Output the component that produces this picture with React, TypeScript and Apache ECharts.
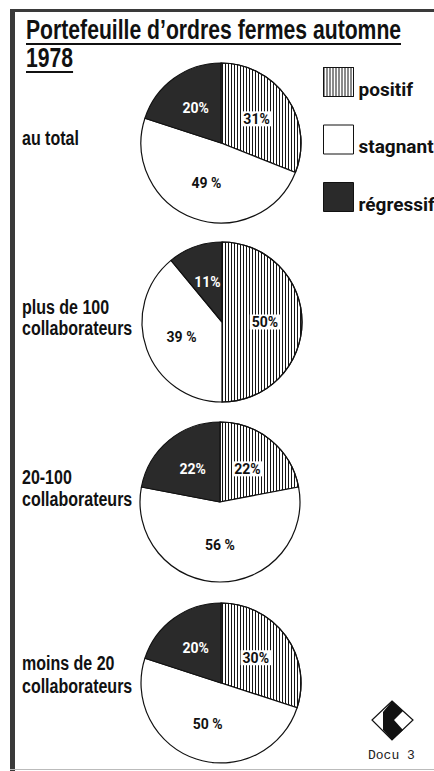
import React, { useEffect, useRef } from "react";
import * as echarts from "echarts";

// ---- data ----
const titleLines = ["Portefeuille d’ordres fermes automne", "1978"];
const categories = [
  ["au total"],
  ["plus de 100", "collaborateurs"],
  ["20-100", "collaborateurs"],
  ["moins de 20", "collaborateurs"],
];
const segmentNames = ["positif", "stagnant", "régressif"];
const positif = [31, 50, 22, 30];
const stagnant = [49, 39, 56, 50];
const regressif = [20, 11, 22, 20];
const footer = "Docu 3";

const FONT = "'Liberation Sans', Arial, sans-serif";
const LFONT = "Roboto, 'Liberation Sans', sans-serif";
const MONO = "'Liberation Mono', 'DejaVu Sans Mono', monospace";

function measure(text: string, font: string): number {
  const c = document.createElement("canvas").getContext("2d");
  if (!c) return text.length * 10;
  c.font = font;
  return c.measureText(text).width;
}

export default function App() {
  const ref = useRef<HTMLDivElement>(null);
  useEffect(() => {
    document.body.style.margin = "0";
    if (!ref.current) return;
    const chart = echarts.init(ref.current, undefined, { renderer: "svg" });

    const centers: [number, number][] = [
      [221, 143],
      [222, 322],
      [220, 502],
      [221, 683],
    ];
    const labelY: number[][] = [[138], [307, 328], [477, 499], [663, 686]];

    const titleFont = `bold 28px ${FONT}`;
    const titleTarget = 375;
    const tw1 = measure(titleLines[0], titleFont);
    const tScale = titleTarget / tw1;
    const tw2 = measure(titleLines[1], titleFont) * tScale;

    const catFont = `bold 20px ${FONT}`;
    const catScale = 0.8;

    const hatch = {
      symbol: "rect",
      symbolSize: 1,
      color: "#151515",
      dashArrayX: [1, 2],
      dashArrayY: [10, 0],
      rotation: 0,
    };

    const graphics: any[] = [
      // frame
      { type: "rect", shape: { x: 10, y: 9, width: 5, height: 762 }, style: { fill: "#3a3a3a" }, silent: true },
      { type: "rect", shape: { x: 10, y: 9, width: 424, height: 3 }, style: { fill: "#3a3a3a" }, silent: true },
      { type: "rect", shape: { x: 10, y: 769, width: 424, height: 1 }, style: { fill: "#bbb" }, silent: true },
      // title
      {
        type: "text",
        x: 26,
        y: 29.5,
        scaleX: tScale,
        style: { text: titleLines[0], font: titleFont, fill: "#111", verticalAlign: "middle" },
      },
      {
        type: "text",
        x: 26,
        y: 57.5,
        scaleX: tScale,
        style: { text: titleLines[1], font: titleFont, fill: "#111", verticalAlign: "middle" },
      },
      { type: "line", shape: { x1: 26, y1: 44, x2: 26 + titleTarget, y2: 44 }, style: { stroke: "#111", lineWidth: 2 } },
      { type: "line", shape: { x1: 26, y1: 72, x2: 26 + tw2, y2: 72 }, style: { stroke: "#111", lineWidth: 2 } },
      // logo
      {
        type: "polygon",
        shape: { points: [[392, 701], [413, 720], [392, 740], [372, 720]] },
        style: { fill: "#fff", stroke: "#111", lineWidth: 1.2 },
      },
      {
        type: "polygon",
        shape: { points: [[392, 701], [403, 711], [394, 720], [403, 730], [392, 740], [383, 730], [383, 712]] },
        style: { fill: "#111" },
      },
      {
        type: "text",
        x: 368,
        y: 755,
        style: { text: footer, font: `13px ${MONO}`, fill: "#222", verticalAlign: "middle" },
      },
    ];

    categories.forEach((lines, i) => {
      lines.forEach((ln, j) => {
        graphics.push({
          type: "text",
          x: 22,
          y: labelY[i][j],
          scaleX: catScale,
          style: { text: ln, font: catFont, fill: "#111", verticalAlign: "middle" },
        });
      });
    });

    const series = centers.map((c, i) => ({
      type: "pie",
      center: c,
      radius: 80,
      startAngle: 90,
      clockwise: true,
      avoidLabelOverlap: false,
      emphasis: { disabled: true },
      labelLine: { show: false },
      itemStyle: { borderColor: "#111", borderWidth: 1.2 },
      label: {
        show: true,
        position: "inside",
        fontFamily: LFONT,
        fontWeight: "bold",
        fontSize: 14,
        formatter: (p: any) => (p.name === "stagnant" ? `${p.value} %` : `${p.value}%`),
      },
      data: [
        {
          name: segmentNames[0],
          value: positif[i],
          itemStyle: { color: "#fff", decal: hatch },
          label: { color: "#111", backgroundColor: "#fff", padding: [1, 2, 0, 2] },
        },
        { name: segmentNames[1], value: stagnant[i], itemStyle: { color: "#fff" }, label: { color: "#111" } },
        { name: segmentNames[2], value: regressif[i], itemStyle: { color: "#2a2a2a" }, label: { color: "#fff" } },
      ],
    }));

    chart.setOption({
      animation: false,
      backgroundColor: "#fff",
      legend: {
        data: segmentNames,
        orient: "vertical",
        left: 323,
        top: 67,
        padding: 0,
        itemWidth: 30,
        itemHeight: 29,
        itemGap: 26,
        icon: "rect",
        selectedMode: false,
        itemStyle: { borderColor: "#111", borderWidth: 1 },
        formatter: "{t|{name}}",
        textStyle: {
          color: "#111",
          rich: {
            t: {
              fontFamily: LFONT,
              fontWeight: "bold",
              fontSize: 19,
              color: "#111",
              padding: [14, 0, 0, 0],
            },
          },
        },
      },
      graphic: graphics,
      series,
    });

    return () => chart.dispose();
  }, []);
  return <div ref={ref} style={{ width: 434, height: 771 }} />;
}
